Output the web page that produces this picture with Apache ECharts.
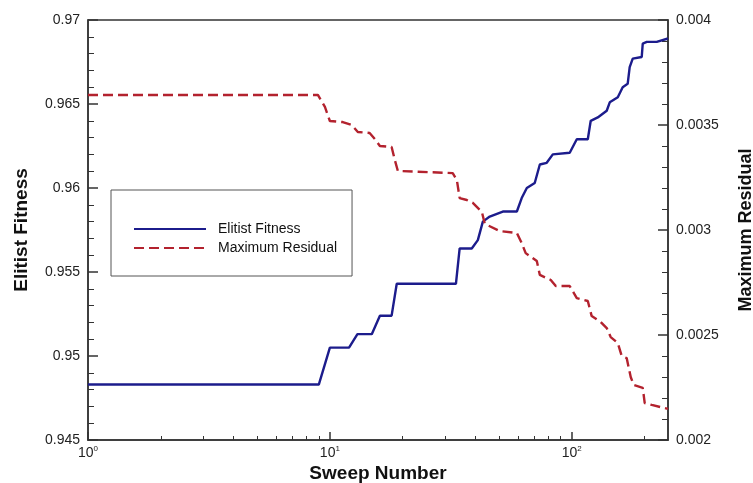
<!DOCTYPE html>
<html>
<head>
<meta charset="utf-8">
<script src="https://cdn.jsdelivr.net/npm/echarts@6/dist/echarts.min.js"></script>
<style>
  html, body { margin: 0; padding: 0; background: #fff; }
  #chart { width: 753px; height: 483px; }
</style>
</head>
<body>
<div id="chart"></div>
<script>
// Sweep numbers (log axis) and the elitist fitness reached at each of them
const fitnessSweeps = [1, 9.0, 10, 12, 13, 14.9, 16.1, 18.0, 18.9, 33.2, 34.4, 38.6, 40.9, 42.9, 45.8, 51.9, 59.3, 62.1, 65.2, 70.3, 73.8, 78.8, 83.5, 98.1, 104.9, 116.5, 119.8, 128.1, 139.5, 143.6, 155.0, 162.4, 170.3, 173.6, 178.7, 194.7, 196.6, 204.2, 224.5, 250];
const fitnessValues = [0.9483, 0.9483, 0.9505, 0.9505, 0.9513, 0.9513, 0.9524, 0.9524, 0.9543, 0.9543, 0.9564, 0.9564, 0.9569, 0.9580, 0.9583, 0.9586, 0.9586, 0.9594, 0.9600, 0.9603, 0.9614, 0.9615, 0.9620, 0.9621, 0.9629, 0.9629, 0.9640, 0.9642, 0.9646, 0.9651, 0.9654, 0.9660, 0.9662, 0.9672, 0.9677, 0.9678, 0.9686, 0.9687, 0.9687, 0.9689];

// Sweep numbers and the maximum residual at each of them
const residualSweeps = [1, 8.92, 9.54, 10, 11.3, 12.3, 13.05, 14.6, 15.35, 16.1, 18.0, 18.56, 19.1, 32.2, 33.5, 34.4, 36.8, 39.0, 42.5, 43.7, 50.4, 59.3, 62.1, 64.5, 71.7, 73.8, 81.9, 85.9, 98.1, 104.9, 116.5, 120.9, 131.8, 139.5, 144.9, 155.0, 160.9, 168.7, 175.3, 180.4, 196.6, 200.3, 214.1, 250];
const residualValues = [0.003643, 0.003643, 0.003586, 0.003519, 0.003514, 0.003500, 0.003467, 0.003462, 0.003433, 0.003400, 0.003395, 0.003333, 0.003281, 0.003271, 0.003238, 0.003152, 0.003143, 0.003129, 0.003086, 0.003029, 0.002995, 0.002986, 0.002938, 0.002890, 0.002852, 0.002786, 0.002762, 0.002733, 0.002733, 0.002676, 0.002662, 0.002590, 0.002562, 0.002533, 0.002490, 0.002462, 0.002400, 0.002390, 0.002300, 0.002262, 0.002248, 0.002176, 0.002167, 0.002148];

// Axis ticks
const decadeTicks = [1, 10, 100];
const minorDecadeTicks = [2, 3, 4, 5, 6, 7, 8, 9, 20, 30, 40, 50, 60, 70, 80, 90, 200];

const seriesNames = ['Elitist Fitness', 'Maximum Residual'];

const pair = (xs, ys) => xs.map((x, i) => [x, ys[i]]);

const FONT = '"Liberation Sans", Arial, sans-serif';
const AXIS_COLOR = '#333';
const LABEL_COLOR = '#222';

const chart = echarts.init(document.getElementById('chart'), null, { renderer: 'canvas' });

chart.setOption({
  backgroundColor: '#fff',
  animation: false,
  textStyle: { fontFamily: FONT },
  grid: {
    left: 88, right: 85, top: 20, bottom: 43,
    containLabel: false, outerBoundsMode: 'none',
    show: true, borderColor: AXIS_COLOR, borderWidth: 1.5, backgroundColor: 'transparent'
  },
  legend: {
    orient: 'vertical',
    left: 111, top: 190,
    padding: [32, 15, 21, 22],
    itemGap: 5,
    itemWidth: 72,
    itemHeight: 14,
    borderColor: '#555',
    borderWidth: 1,
    itemStyle: { opacity: 0 },
    data: seriesNames,
    textStyle: { fontFamily: FONT, fontSize: 14, color: '#111', padding: [0, 0, 0, 7] }
  },
  xAxis: [
    {
      type: 'log', logBase: 10, min: 1, max: 250,
      name: 'Sweep Number', nameLocation: 'middle', nameGap: 24, nameMoveOverlap: false,
      nameTextStyle: { fontFamily: FONT, fontSize: 19, fontWeight: 'bold', color: '#111', verticalAlign: 'top' },
      axisLine: { show: true, lineStyle: { color: AXIS_COLOR, width: 1.5 } },
      axisTick: { show: true, inside: true, length: 8, customValues: decadeTicks, lineStyle: { color: AXIS_COLOR, width: 1.5 } },
      axisLabel: {
        customValues: decadeTicks, margin: 5, color: LABEL_COLOR,
        formatter: v => '{b|10}{s|' + Math.round(Math.log10(v)) + '}',
        rich: {
          b: { fontFamily: FONT, fontSize: 14, color: LABEL_COLOR, lineHeight: 16 },
          s: { fontFamily: FONT, fontSize: 8, color: LABEL_COLOR, verticalAlign: 'top', lineHeight: 16 }
        }
      },
      splitLine: { show: false }
    },
    {
      type: 'log', logBase: 10, min: 1, max: 250, position: 'bottom',
      axisLine: { show: false },
      axisTick: { show: true, inside: true, length: 4, customValues: minorDecadeTicks, lineStyle: { color: AXIS_COLOR, width: 1 } },
      axisLabel: { show: false },
      splitLine: { show: false }
    }
  ],
  yAxis: [
    {
      type: 'value', min: 0.945, max: 0.97, interval: 0.005,
      name: 'Elitist Fitness', nameLocation: 'middle', nameGap: 57, nameRotate: 90,
      nameTextStyle: { fontFamily: FONT, fontSize: 19, fontWeight: 'bold', color: '#111' },
      axisLine: { show: true, lineStyle: { color: AXIS_COLOR, width: 1.5 } },
      axisTick: { show: true, inside: true, length: 10, lineStyle: { color: AXIS_COLOR, width: 1.5 } },
      minorTick: { show: true, splitNumber: 5, length: 6, lineStyle: { color: AXIS_COLOR, width: 1 } },
      axisLabel: { fontFamily: FONT, fontSize: 14, color: LABEL_COLOR, margin: 8 },
      splitLine: { show: false }
    },
    {
      type: 'value', min: 0.002, max: 0.004, interval: 0.0005, position: 'right',
      name: 'Maximum Residual', nameLocation: 'middle', nameGap: 69, nameRotate: 90,
      nameTextStyle: { fontFamily: FONT, fontSize: 18, fontWeight: 'bold', color: '#111' },
      axisLine: { show: true, lineStyle: { color: AXIS_COLOR, width: 1.5 } },
      axisTick: { show: true, inside: true, length: 10, lineStyle: { color: AXIS_COLOR, width: 1.5 } },
      minorTick: { show: true, splitNumber: 5, length: 6, lineStyle: { color: AXIS_COLOR, width: 1 } },
      axisLabel: { fontFamily: FONT, fontSize: 14, color: LABEL_COLOR, margin: 8 },
      splitLine: { show: false }
    }
  ],
  series: [
    {
      name: seriesNames[0], type: 'line', xAxisIndex: 0, yAxisIndex: 0,
      data: pair(fitnessSweeps, fitnessValues),
      symbol: 'none', smooth: false,
      lineStyle: { color: '#1c1c8c', width: 2.4 },
      itemStyle: { color: '#1c1c8c' }
    },
    {
      name: seriesNames[1], type: 'line', xAxisIndex: 0, yAxisIndex: 1,
      data: pair(residualSweeps, residualValues),
      symbol: 'none', smooth: false,
      lineStyle: { color: '#b3222e', width: 2.4, type: [10, 5] },
      itemStyle: { color: '#b3222e' }
    }
  ]
});
</script>
</body>
</html>
